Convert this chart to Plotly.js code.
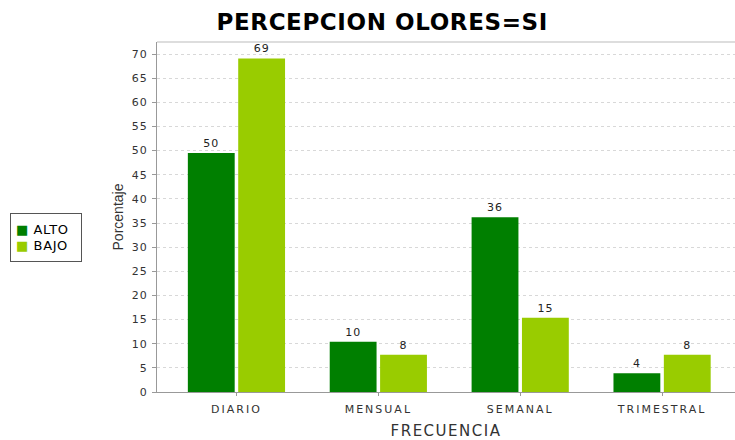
<!DOCTYPE html>
<html>
<head>
<meta charset="utf-8">
<script src="https://cdn.plot.ly/plotly-3.0.1.min.js"></script>
<style>
html,body{margin:0;padding:0;background:#fff;}
#chart{width:735px;height:440px;}
#chart .xtick text{letter-spacing:2px;}
#chart .ytick text{letter-spacing:1px;}
#chart .bartext{letter-spacing:1px;}
#chart .gtitle{letter-spacing:0.6px;}
#chart .xtitle{letter-spacing:1.5px;}
#chart .annotation-text{letter-spacing:0.6px;}
</style>
</head>
<body>
<div id="chart"></div>
<script>
const categories = ["DIARIO", "MENSUAL", "SEMANAL", "TRIMESTRAL"];
const altoValues = [49.5, 10.4, 36.2, 3.9];
const bajoValues = [69.1, 7.7, 15.4, 7.7];
const seriesNames = ["ALTO", "BAJO"];
const seriesColors = ["#007F00", "#99CC00"];
const yTicks = [0,5,10,15,20,25,30,35,40,45,50,55,60,65,70];

const sans = "DejaVu Sans, Liberation Sans, sans-serif";

function mk(name, vals, color) {
  return {
    type: "bar", name: name, x: categories, y: vals,
    marker: {color: color, line: {width: 0}},
    text: vals.map(v => String(Math.round(v))),
    textposition: "outside", cliponaxis: false,
    textfont: {family: sans, size: 11, color: "#222"},
    hoverinfo: "none"
  };
}

const data = [mk(seriesNames[0], altoValues, seriesColors[0]), mk(seriesNames[1], bajoValues, seriesColors[1])];

const legendText = seriesNames.map((n, i) =>
  '<span style="color:' + seriesColors[i] + '">■</span> ' + n).join("<br>");

const layout = {
  width: 735, height: 440,
  margin: {l: 157, r: 0, t: 42, b: 48},
  paper_bgcolor: "#fff", plot_bgcolor: "#fff",
  title: {text: "<b>PERCEPCION OLORES=SI</b>", x: 0.52, xanchor: "center", y: 0.95, yanchor: "middle",
          font: {family: sans, size: 23, color: "#000"}},
  barmode: "group", bargap: 0.29, bargroupgap: 0.07,
  showlegend: false,
  annotations: [{
    xref: "paper", yref: "paper", x: -0.2545, xanchor: "left", y: 0.512, yanchor: "top",
    text: legendText, showarrow: false, align: "left", width: 60, height: 37, valign: "middle",
    bordercolor: "#555", borderwidth: 1, borderpad: 5, bgcolor: "#fff",
    font: {family: sans, size: 13, color: "#000"}
  }],
  xaxis: {range: [-0.56, 3.514], showline: true, linecolor: "#999", linewidth: 1,
          ticks: "outside", ticklen: 3, tickcolor: "#999", showgrid: false, zeroline: false,
          ticklabelstandoff: 4,
          tickfont: {family: sans, size: 11, color: "#333"},
          title: {text: "FRECUENCIA", standoff: 14, font: {family: sans, size: 15, color: "#333"}}},
  yaxis: {range: [0, 72.5], tickvals: yTicks, showline: true, linecolor: "#999", linewidth: 1,
          ticks: "outside", ticklen: 4, tickcolor: "#999", ticklabelstandoff: 2,
          showgrid: true, gridcolor: "#d8d8d8", griddash: "dot", gridwidth: 1, zeroline: false,
          tickfont: {family: sans, size: 11, color: "#333"},
          title: {text: "Porcentaje", standoff: 6, font: {family: "Liberation Sans, Arial, sans-serif", size: 14, color: "#333"}}},
  shapes: [{type: "line", xref: "paper", yref: "paper", x0: 0, x1: 1, y0: 1, y1: 1, line: {color: "#bbb", width: 1}}]
};

Plotly.newPlot("chart", data, layout, {displayModeBar: false, staticPlot: true});
</script>
</body>
</html>
